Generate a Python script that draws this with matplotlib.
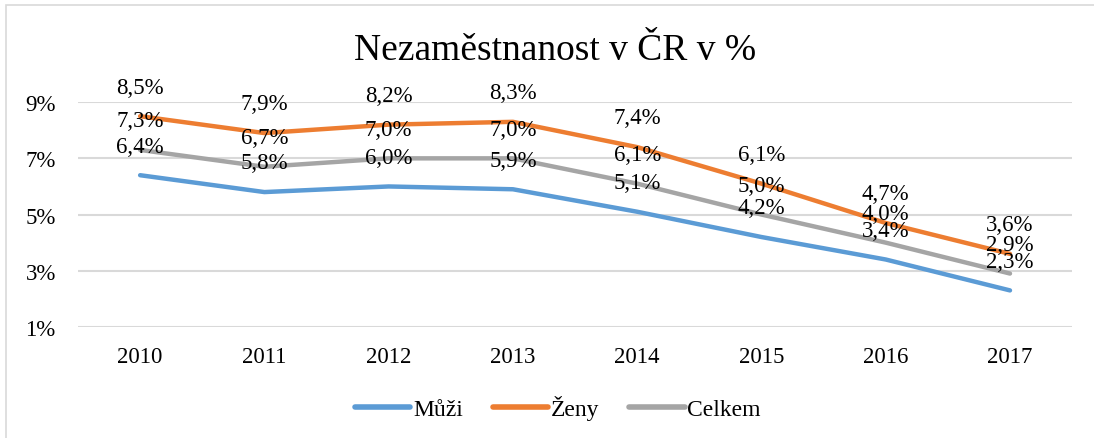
import matplotlib.pyplot as plt
from matplotlib.patches import Rectangle

roky = ["2010", "2011", "2012", "2013", "2014", "2015", "2016", "2017"]
muzi = [6.4, 5.8, 6.0, 5.9, 5.1, 4.2, 3.4, 2.3]
zeny = [8.5, 7.9, 8.2, 8.3, 7.4, 6.1, 4.7, 3.6]
celkem = [7.3, 6.7, 7.0, 7.0, 6.1, 5.0, 4.0, 2.9]
y_ticks = [1, 3, 5, 7, 9]

plt.rcParams['font.family'] = ['Liberation Serif', 'DejaVu Serif']

fig = plt.figure(figsize=(10.94, 4.39), dpi=100)
ax = fig.add_axes([0.0713, 0.253, 0.9087, 0.512])

# ramecek grafu
fig.patches.append(Rectangle((0.0055, -0.05), 1.2, 1.036, transform=fig.transFigure,
                             fill=False, edgecolor='#D9D9D9', linewidth=1.2))

x = list(range(len(roky)))
serie = [("Můži", muzi, "#5B9BD5"), ("Ženy", zeny, "#ED7D31"), ("Celkem", celkem, "#A5A5A5")]
for nazev, hodnoty, barva in serie:
    ax.plot(x, hodnoty, color=barva, linewidth=3.2, solid_capstyle='round',
            solid_joinstyle='round', label=nazev, zorder=3)
for nazev, hodnoty, barva in serie:
    for xi, yi in zip(x, hodnoty):
        ax.annotate(f"{yi:.1f}%".replace(".", ","), (xi, yi), xytext=(0, 21),
                    textcoords='offset points', ha='center', va='center',
                    fontsize=16.5, color='#000000', zorder=4)

ax.set_xlim(-0.5, len(roky) - 0.5)
ax.set_ylim(1, 9)
ax.set_yticks(y_ticks)
ax.set_yticklabels([f"{t}%" for t in y_ticks])
ax.set_xticks(x)
ax.set_xticklabels(roky)
ax.tick_params(axis='both', length=0, labelsize=16.5, colors='#000000')
ax.tick_params(axis='y', pad=16)
ax.tick_params(axis='x', pad=14)
ax.grid(axis='y', color='#D9D9D9', linewidth=1.5, zorder=0)
for s in ax.spines.values():
    s.set_visible(False)
ax.set_clip_on(False)

fig.text(0.507, 0.885, "Nezaměstnanost v ČR v %", ha='center', va='center', fontsize=27)

leg = fig.legend(loc='center', bbox_to_anchor=(0.51, 0.07), ncol=3, frameon=False,
                 fontsize=17, handlelength=2.35, handletextpad=0.12, columnspacing=1.25)
for h in leg.get_lines():
    h.set_linewidth(4)
    h.set_solid_capstyle('round')

fig.savefig("out.png", dpi=100)
